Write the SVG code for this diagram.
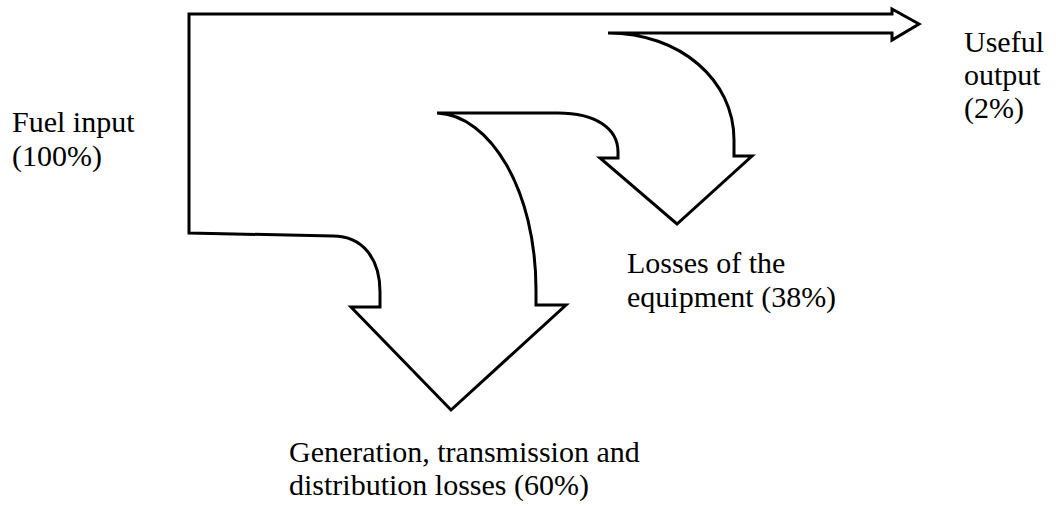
<svg xmlns="http://www.w3.org/2000/svg" width="1056" height="507" viewBox="0 0 1056 507">
<style>
.flow{fill:#fff;stroke:#000;stroke-width:3;stroke-linejoin:miter}
</style>
<rect width="1056" height="507" fill="#fff"/>
<g id="connectors">
<path class="flow" d="M189,14 L892,14 L892,9 L919,24 L892,40 L892,33 L608,33 C680,33 734,80 734,140 L734,156 L752,156 L677,224 L600,158 L618,158 L618,152 C618,128 595,113 558,113 L437,113 C490,115 536,190 536,290 L536,305 L566,305 L451,410 L351,307 L380,307 L380,292 C380,258 362,236 333,236 L189,233 Z"/>
</g>
<g id="labels" fill="#000">
<g id="fuel-input">
<text x="12" y="132" font-family="Liberation Serif" font-size="30">Fuel input</text>
<text x="12" y="166" font-family="Liberation Serif" font-size="30">(100%)</text>
</g>
<g id="useful-output">
<text x="964" y="52" font-family="Liberation Serif" font-size="30">Useful</text>
<text x="964" y="85" font-family="Liberation Serif" font-size="30">output</text>
<text x="964" y="118" font-family="Liberation Serif" font-size="30">(2%)</text>
</g>
<g id="equipment-losses">
<text x="627" y="273" font-family="Liberation Serif" font-size="30">Losses of the</text>
<text x="627" y="307" font-family="Liberation Serif" font-size="30">equipment (38%)</text>
</g>
<g id="gtd-losses">
<text x="289" y="462" font-family="Liberation Serif" font-size="30">Generation, transmission and</text>
<text x="289" y="495" font-family="Liberation Serif" font-size="30">distribution losses (60%)</text>
</g>
</g>
</svg>
